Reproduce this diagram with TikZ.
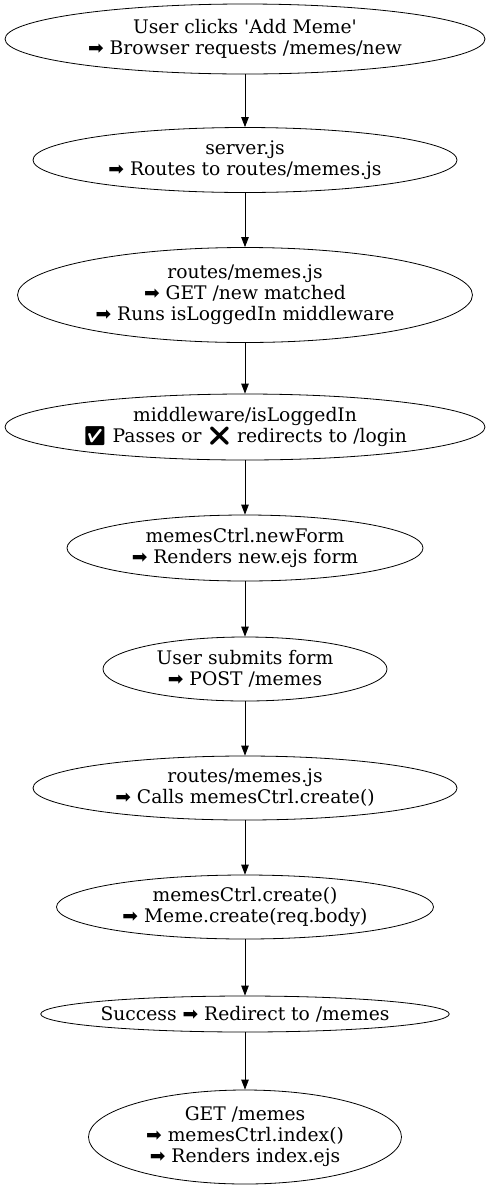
\documentclass[tikz,border=0pt]{standalone}
\usepackage{fontspec}
\setmainfont{DejaVu Serif}
\newfontfamily\symfont{DejaVu Sans}
\newfontfamily\emojifont{Noto Emoji}
\usetikzlibrary{shapes.geometric,arrows.meta}
\newcommand{\ra}{{\symfont ➡}}
\tikzset{
  flow/.style={draw, ellipse, inner sep=0pt, align=center, font=\fontsize{18.7}{21}\selectfont, line width=0.8pt},
  link/.style={-{Triangle[length=10pt,width=7.5pt]}, line width=0.8pt}
}
\begin{document}
\begin{tikzpicture}[x=1pt,y=-1pt]
\useasboundingbox (0,0) rectangle (490,1192);
\node[flow, minimum width=480pt, minimum height=70pt] (n1) at (245,39) {User clicks \textquotesingle Add Meme\textquotesingle\\\ra\ Browser requests /memes/new};
\node[flow, minimum width=424pt, minimum height=65pt] (n2) at (245,160) {server.js\\\ra\ Routes to routes/memes.js};
\node[flow, minimum width=455pt, minimum height=95pt] (n3) at (245,295) {routes/memes.js\\\ra\ GET /new matched\\\ra\ Runs isLoggedIn middleware};
\node[flow, minimum width=480pt, minimum height=66pt] (n4) at (245,427) {middleware/isLoggedIn\\{\emojifont ✅} Passes or {\emojifont ❌} redirects to /login};
\node[flow, minimum width=356pt, minimum height=66pt] (n5) at (245,548) {memesCtrl.newForm\\\ra\ Renders new.ejs form};
\node[flow, minimum width=284pt, minimum height=64pt] (n6) at (245,669) {User submits form\\\ra\ POST /memes};
\node[flow, minimum width=424pt, minimum height=64pt] (n7) at (245,788) {routes/memes.js\\\ra\ Calls memesCtrl.create()};
\node[flow, minimum width=377pt, minimum height=64pt] (n8) at (245,907) {memesCtrl.create()\\\ra\ Meme.create(req.body)};
\node[flow, minimum width=407pt, minimum height=36pt] (n9) at (245,1014) {Success \ra\ Redirect to /memes};
\node[flow, minimum width=313pt, minimum height=94pt] (n10) at (245,1137) {GET /memes\\\ra\ memesCtrl.index()\\\ra\ Renders index.ejs};
\draw[link] (n1) -- (n2);
\draw[link] (n2) -- (n3);
\draw[link] (n3) -- (n4);
\draw[link] (n4) -- (n5);
\draw[link] (n5) -- (n6);
\draw[link] (n6) -- (n7);
\draw[link] (n7) -- (n8);
\draw[link] (n8) -- (n9);
\draw[link] (n9) -- (n10);
\end{tikzpicture}
\end{document}
